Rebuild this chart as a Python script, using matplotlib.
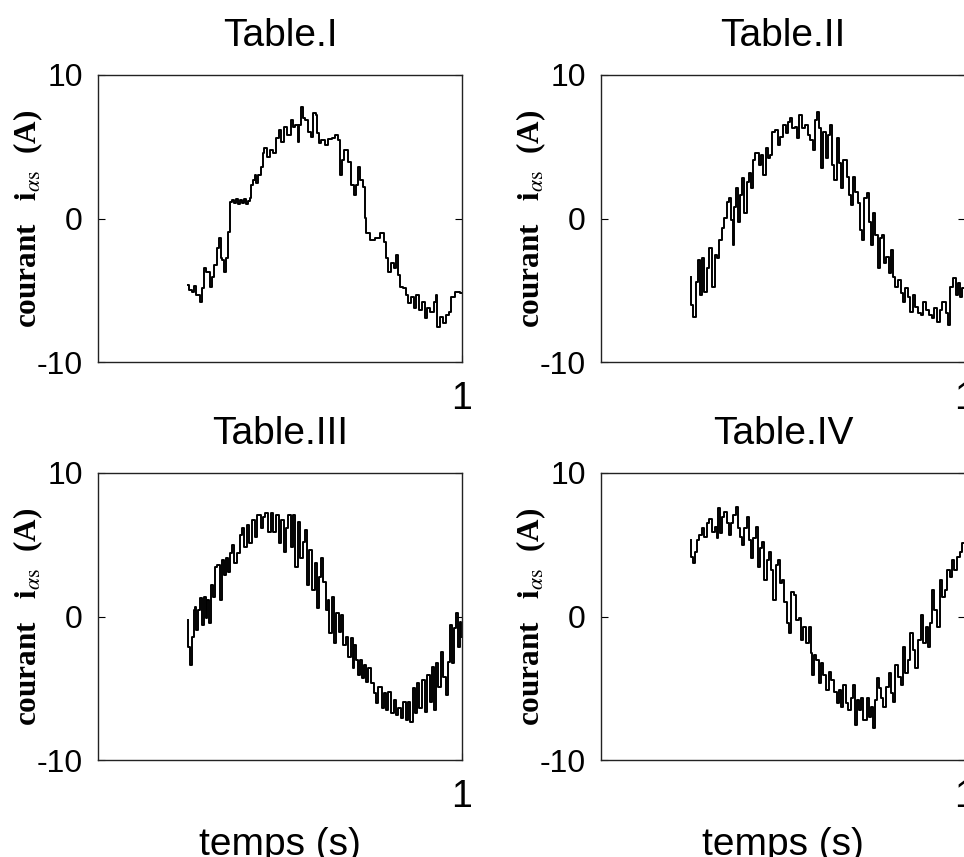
import matplotlib
matplotlib.use("Agg")
import matplotlib.pyplot as plt

plt.rcParams["font.family"] = "Liberation Sans"
plt.rcParams["mathtext.fontset"] = "stix"
plt.rcParams["axes.unicode_minus"] = False

# Table.I  (time in s, current in A)
t1 = [0.247, 0.253, 0.261, 0.266, 0.275, 0.286, 0.288, 0.294, 0.302, 0.313,
      0.316, 0.324, 0.330, 0.335, 0.341, 0.343, 0.349, 0.354, 0.360, 0.365,
      0.371, 0.376, 0.382, 0.387, 0.393, 0.398, 0.404, 0.410, 0.415, 0.420,
      0.423, 0.429, 0.431, 0.437, 0.442, 0.451, 0.453, 0.459, 0.467, 0.478,
      0.486, 0.492, 0.500, 0.508, 0.516, 0.525, 0.533, 0.538, 0.547, 0.552,
      0.555, 0.560, 0.566, 0.574, 0.580, 0.588, 0.596, 0.602, 0.604, 0.610,
      0.618, 0.629, 0.637, 0.646, 0.657, 0.659, 0.668, 0.673, 0.681, 0.690,
      0.698, 0.706, 0.712, 0.717, 0.725, 0.731, 0.734, 0.739, 0.753, 0.769,
      0.783, 0.788, 0.794, 0.802, 0.810, 0.816, 0.821, 0.827, 0.835, 0.843,
      0.849, 0.857, 0.865, 0.871, 0.876, 0.885, 0.893, 0.901, 0.907, 0.918,
      0.926, 0.931, 0.934, 0.945, 0.951, 0.959, 0.967, 0.975, 0.989, 1.000]
i1 = [-4.63, -4.98, -5.12, -4.70, -5.33, -5.82, -4.84, -3.45, -3.73, -4.77,
      -4.08, -3.24, -2.06, -1.36, -2.75, -2.89, -3.73, -2.75, -0.94, 1.15,
      1.29, 1.08, 1.36, 1.01, 1.29, 1.08, 1.36, 1.01, 1.22, 1.43,
      2.33, 2.68, 3.03, 2.47, 3.03, 3.59, 4.56, 4.91, 4.29, 4.77,
      4.56, 5.61, 6.17, 5.33, 6.38, 5.82, 6.86, 6.38, 6.52, 5.33,
      6.52, 7.77, 7.00, 6.86, 6.03, 5.68, 7.35, 7.21, 5.96, 5.26,
      5.47, 5.12, 5.54, 5.61, 5.82, 5.47, 3.03, 4.08, 4.77, 3.94,
      2.33, 1.64, 2.33, 3.59, 2.68, 2.20, 0.03, -1.01, -1.50, -1.36,
      -1.01, -1.64, -2.75, -3.73, -3.10, -3.45, -2.54, -3.94, -4.77, -4.84,
      -5.33, -5.89, -5.47, -6.24, -5.33, -6.38, -5.82, -6.93, -6.24, -6.52,
      -5.82, -5.33, -7.56, -6.86, -7.28, -6.72, -6.52, -5.47, -5.12, -5.19]

# Table.II
t2 = [0.247, 0.250, 0.258, 0.264, 0.269, 0.275, 0.280, 0.288, 0.294, 0.302,
      0.308, 0.316, 0.321, 0.330, 0.335, 0.343, 0.349, 0.354, 0.360, 0.363,
      0.368, 0.374, 0.379, 0.385, 0.390, 0.398, 0.404, 0.409, 0.415, 0.418,
      0.429, 0.437, 0.442, 0.448, 0.456, 0.459, 0.467, 0.473, 0.484, 0.489,
      0.497, 0.503, 0.511, 0.516, 0.522, 0.527, 0.538, 0.541, 0.549, 0.555,
      0.566, 0.571, 0.580, 0.585, 0.591, 0.596, 0.602, 0.607, 0.613, 0.621,
      0.626, 0.632, 0.637, 0.643, 0.651, 0.657, 0.662, 0.670, 0.679, 0.684,
      0.690, 0.695, 0.703, 0.709, 0.714, 0.720, 0.725, 0.734, 0.739, 0.745,
      0.750, 0.758, 0.764, 0.769, 0.775, 0.780, 0.788, 0.794, 0.799, 0.805,
      0.813, 0.819, 0.827, 0.832, 0.841, 0.846, 0.854, 0.860, 0.868, 0.874,
      0.882, 0.887, 0.896, 0.904, 0.912, 0.920, 0.926, 0.934, 0.942, 0.951,
      0.956, 0.964, 0.970, 0.978, 0.981, 0.989, 0.995]
i2 = [-4.08, -6.03, -6.86, -4.43, -2.89, -5.33, -2.75, -5.12, -3.45, -2.06,
      -4.77, -2.54, -2.75, -1.50, -0.66, 0.03, 1.15, 1.43, -0.10, -1.85,
      0.80, 2.13, -0.24, 1.64, 2.82, 0.38, 2.54, 3.17, 2.13, 4.08,
      4.56, 3.73, 4.42, 3.03, 4.91, 4.22, 4.42, 6.03, 6.17, 5.12,
      5.68, 6.52, 5.96, 6.72, 7.00, 6.31, 6.38, 5.61, 7.21, 6.31,
      6.52, 5.82, 5.47, 4.77, 6.86, 7.42, 6.31, 3.52, 6.03, 4.22,
      5.82, 6.52, 3.73, 2.68, 5.61, 3.87, 2.13, 4.08, 2.89, 1.64,
      0.94, 2.89, 1.85, 1.08, -0.80, -1.50, 1.43, 1.78, -0.24, -1.85,
      0.38, -1.15, -3.45, -1.36, -1.15, -3.10, -2.68, -3.80, -2.20, -4.08,
      -4.77, -4.29, -5.19, -5.82, -4.84, -5.47, -6.52, -5.33, -6.17, -6.59,
      -6.72, -5.82, -6.38, -6.72, -6.93, -6.24, -7.21, -6.38, -5.82, -6.59,
      -7.42, -4.77, -4.15, -5.33, -4.49, -5.47, -4.84]

# Table.III
t3 = [0.247, 0.250, 0.255, 0.261, 0.264, 0.269, 0.272, 0.277, 0.283, 0.288,
      0.294, 0.299, 0.302, 0.308, 0.313, 0.319, 0.324, 0.330, 0.338, 0.343,
      0.349, 0.354, 0.360, 0.365, 0.371, 0.379, 0.385, 0.393, 0.398, 0.404,
      0.412, 0.420, 0.426, 0.434, 0.442, 0.451, 0.456, 0.464, 0.470, 0.478,
      0.486, 0.492, 0.500, 0.508, 0.514, 0.519, 0.525, 0.533, 0.538, 0.547,
      0.552, 0.560, 0.566, 0.571, 0.577, 0.585, 0.591, 0.599, 0.604, 0.610,
      0.618, 0.621, 0.629, 0.632, 0.637, 0.646, 0.651, 0.657, 0.665, 0.670,
      0.676, 0.684, 0.690, 0.698, 0.701, 0.706, 0.712, 0.714, 0.723, 0.728,
      0.734, 0.739, 0.745, 0.753, 0.761, 0.766, 0.775, 0.783, 0.788, 0.794,
      0.802, 0.808, 0.816, 0.821, 0.830, 0.835, 0.841, 0.849, 0.854, 0.863,
      0.868, 0.874, 0.879, 0.887, 0.893, 0.901, 0.907, 0.915, 0.920, 0.926,
      0.931, 0.937, 0.945, 0.951, 0.959, 0.964, 0.970, 0.975, 0.981, 0.986,
      0.992, 0.997, 1.000]
i3 = [-0.24, -2.13, -3.38, -1.43, 0.45, 0.66, -0.94, 0.45, 1.29, -0.59,
      1.36, -0.10, 1.15, -0.45, 2.20, 1.36, 3.45, 3.59, 1.15, 3.94,
      2.89, 4.08, 3.10, 4.43, 4.98, 3.73, 4.43, 5.68, 6.17, 4.84,
      6.38, 5.12, 6.72, 5.54, 7.07, 6.17, 6.93, 7.21, 5.89, 7.21,
      5.89, 7.07, 5.12, 6.72, 4.49, 6.17, 7.07, 4.84, 7.07, 3.45,
      6.59, 4.08, 5.19, 6.03, 2.20, 4.63, 1.85, 3.73, 0.59, 2.75,
      4.08, 2.40, 0.45, 1.15, -1.15, 1.36, -1.85, 0.24, -1.08, 0.10,
      -1.99, -1.43, -2.82, -1.50, -3.59, -1.99, -3.03, -4.08, -3.03, -4.29,
      -3.38, -4.56, -3.59, -4.63, -5.33, -6.03, -4.91, -6.38, -5.33, -6.52,
      -5.26, -6.72, -5.82, -6.86, -6.38, -7.07, -5.96, -7.21, -5.96, -7.35,
      -4.98, -6.72, -4.63, -6.38, -4.43, -6.66, -4.08, -5.96, -3.52, -6.52,
      -3.24, -4.91, -2.47, -4.22, -5.47, -3.17, -0.59, -3.24, -0.80, 0.24,
      -2.13, -0.38, -1.43]

# Table.IV
t4 = [0.247, 0.250, 0.255, 0.264, 0.266, 0.275, 0.280, 0.288, 0.294, 0.302,
      0.308, 0.316, 0.321, 0.324, 0.330, 0.335, 0.343, 0.349, 0.354, 0.360,
      0.368, 0.374, 0.376, 0.385, 0.390, 0.398, 0.404, 0.409, 0.415, 0.420,
      0.429, 0.434, 0.440, 0.445, 0.453, 0.459, 0.464, 0.470, 0.475, 0.484,
      0.489, 0.495, 0.500, 0.508, 0.514, 0.519, 0.525, 0.533, 0.541, 0.547,
      0.552, 0.560, 0.569, 0.574, 0.580, 0.582, 0.588, 0.596, 0.602, 0.607,
      0.615, 0.624, 0.629, 0.635, 0.643, 0.651, 0.657, 0.662, 0.668, 0.676,
      0.681, 0.690, 0.695, 0.701, 0.706, 0.712, 0.717, 0.725, 0.734, 0.739,
      0.745, 0.750, 0.755, 0.761, 0.766, 0.772, 0.780, 0.788, 0.794, 0.799,
      0.805, 0.813, 0.819, 0.827, 0.832, 0.841, 0.846, 0.854, 0.860, 0.868,
      0.874, 0.882, 0.887, 0.896, 0.901, 0.907, 0.912, 0.920, 0.926, 0.934,
      0.940, 0.948, 0.953, 0.962, 0.967, 0.975, 0.981, 0.989, 0.995]
i4 = [5.33, 4.15, 3.73, 4.49, 5.33, 5.68, 6.17, 5.54, 6.52, 6.79,
      5.89, 6.24, 5.47, 7.56, 5.82, 6.93, 7.28, 6.52, 5.68, 6.52,
      7.07, 7.63, 6.17, 5.54, 4.98, 6.17, 6.93, 5.33, 4.08, 5.47,
      6.24, 3.45, 4.77, 5.19, 2.54, 3.94, 4.49, 3.24, 1.15, 3.59,
      3.94, 2.33, 2.54, 1.01, -0.45, -1.15, 1.71, 1.50, -0.24, -0.10,
      -1.64, -0.73, -1.85, -0.73, -2.54, -4.08, -2.68, -3.03, -4.63, -3.24,
      -4.08, -5.12, -3.87, -4.43, -5.26, -6.03, -5.12, -6.31, -4.77, -6.03,
      -6.52, -5.68, -4.77, -7.56, -5.82, -6.52, -5.68, -7.21, -5.68, -7.00,
      -6.31, -7.77, -5.82, -4.29, -4.98, -5.68, -6.31, -4.91, -3.94, -5.33,
      -5.96, -3.38, -4.22, -4.77, -2.13, -3.94, -3.03, -1.15, -2.33, -3.59,
      -1.64, 0.10, -1.85, -0.73, -2.13, -0.45, 1.85, 0.45, -0.73, 2.54,
      1.36, 1.85, 3.24, 2.75, 3.94, 3.24, 4.15, 4.49, 5.12]

titles = ["Table.I", "Table.II", "Table.III", "Table.IV"]
series = [(t1, i1), (t2, i2), (t3, i3), (t4, i4)]

W, H = 964, 857
fig = plt.figure(figsize=(W / 100, H / 100), dpi=100)
fig.patch.set_facecolor("white")

# axes rectangles in pixels: left, top
boxes = [(98, 75), (601, 75), (98, 473), (601, 473)]
ax_w, ax_h = 364, 287

ylabel = r"courant   $\mathbf{i}_{\alpha\mathrm{s}}$  (A)"

for k, ((px, py), title, (t, cur)) in enumerate(zip(boxes, titles, series)):
    ax = fig.add_axes([px / W, 1 - (py + ax_h) / H, ax_w / W, ax_h / H])
    ax.plot(t, cur, color="black", linewidth=1.4, drawstyle="steps-mid")
    ax.set_xlim(0, 1)
    ax.set_ylim(-10, 10)
    ax.set_yticks([-10, 0, 10])
    ax.set_xticks([1])
    ax.tick_params(axis="y", direction="in", length=5, right=True,
                   labelsize=23, pad=11)
    ax.tick_params(axis="x", direction="in", length=5, top=False,
                   labelsize=27, pad=14)
    for sp in ax.spines.values():
        sp.set_linewidth(1.0)
        sp.set_color("#222222")
    ax.set_title(title, fontsize=28, pad=21)
    ax.set_ylabel(ylabel, family="Liberation Serif", fontweight="bold",
                  fontsize=22.5)
    ax.yaxis.set_label_coords(-0.145, 0.5)
    if k >= 2:
        ax.set_xlabel("temps (s)", fontsize=28, labelpad=8)

fig.savefig("out.png", dpi=100)
